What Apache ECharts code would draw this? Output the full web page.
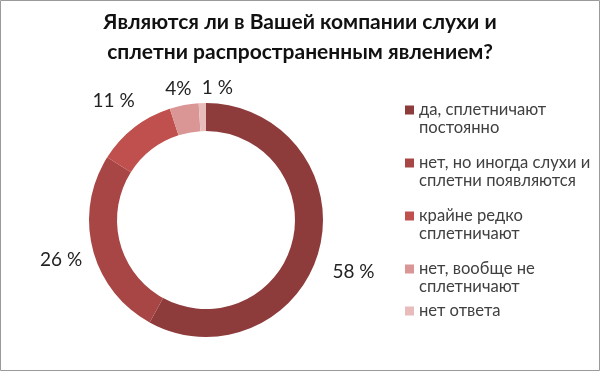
<!DOCTYPE html>
<html><head><meta charset="utf-8">
<script src="https://cdn.jsdelivr.net/npm/echarts@6/dist/echarts.min.js"></script>
<style>html,body{margin:0;padding:0;background:#fff}#c{width:600px;height:371px}</style>
</head><body><div id="c"></div>
<script>
const titleText = 'Являются ли в Вашей компании слухи и\nсплетни распространенным явлением?';
const categories = ['да, сплетничают\nпостоянно', 'нет, но иногда слухи и\nсплетни появляются', 'крайне редко\nсплетничают', 'нет, вообще не\nсплетничают', 'нет ответа'];
const values = [58, 26, 11, 4, 1];
const valueLabels = ['58 %', '26 %', '11 %', '4%', '1 %'];
const colors = ['#8E3B3B', '#A84646', '#C0504D', '#D99694', '#E8BCBB'];

// label nudges (style only)
const labelNudge = [[-5.5, 19], [8, 7], [14, -16], [15, -2], [36, -1]];

const FONT = 'Lato, "Open Sans", sans-serif';
const tallIcon = 'path://M0,0L0.01,0M0,4.5L9,4.5L9,13.5L0,13.5ZM0,36L0.01,36';

const chart = echarts.init(document.getElementById('c'), null, {renderer: 'canvas'});
chart.setOption({
  backgroundColor: '#fff',
  animation: false,
  title: {
    text: titleText, left: 'center', top: 7, padding: 0,
    textStyle: {fontFamily: FONT, fontSize: 21, fontWeight: 'bold', color: '#111', lineHeight: 30}
  },
  legend: [{
    orient: 'vertical', left: 405, top: 101, padding: 0, itemWidth: 9, itemHeight: 36, itemGap: 17,
    data: categories.slice(0, 4).map(n => ({name: n, icon: tallIcon})),
    textStyle: {fontFamily: FONT, fontSize: 16.6, color: '#404040', lineHeight: 18}
  }, {
    orient: 'vertical', left: 405, top: 302, padding: 0, itemWidth: 9, itemHeight: 9,
    data: categories.slice(4).map(n => ({name: n, icon: 'rect'})),
    textStyle: {fontFamily: FONT, fontSize: 16.6, color: '#404040', lineHeight: 18}
  }],
  graphic: [{type: 'rect', shape: {x: 0.5, y: 0.5, width: 599, height: 370}, style: {fill: 'none', stroke: '#9a9a9a', lineWidth: 1}, silent: true}],
  series: [{
    type: 'pie',
    center: [206, 220],
    radius: [89, 117],
    startAngle: 90,
    clockwise: true,
    avoidLabelOverlap: false,
    color: colors,
    data: categories.map((n, i) => ({name: n, value: values[i]})),
    label: {show: true, position: 'outside', formatter: p => valueLabels[p.dataIndex], fontFamily: FONT, fontSize: 19, color: '#222'},
    labelLine: {show: false, length: 14, length2: 0},
    labelLayout: p => ({hideOverlap: false, dx: labelNudge[p.dataIndex][0], dy: labelNudge[p.dataIndex][1]}),
    emphasis: {disabled: true}
  }]
});
</script></body></html>
